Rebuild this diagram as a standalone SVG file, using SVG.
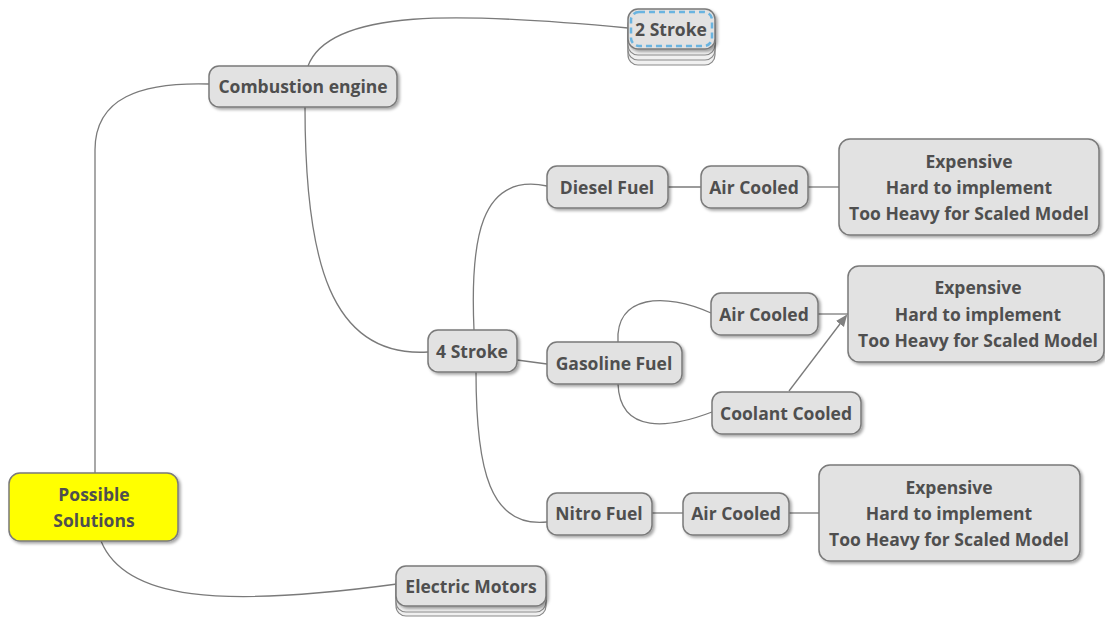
<svg xmlns="http://www.w3.org/2000/svg" width="1105" height="620" viewBox="0 0 1105 620">
<defs>
<filter id="sh" x="-10%" y="-20%" width="130%" height="150%">
<feDropShadow dx="2" dy="2" stdDeviation="1.5" flood-color="#000" flood-opacity="0.35"/>
</filter>
<marker id="arr" markerWidth="12" markerHeight="12" refX="10" refY="5" orient="auto" markerUnits="userSpaceOnUse" viewBox="0 0 12 10">
<path d="M0,0 L12,5 L0,10 z" fill="#808080"/>
</marker>
<style>
.n{fill:#e2e2e2;stroke:#7a7a7a;stroke-width:1.5;filter:url(#sh)}
.y{fill:#ffff00;stroke:#7a7a7a;stroke-width:1.5;filter:url(#sh)}
.st{fill:#f0f0f0;stroke:#8a8a8a;stroke-width:1.2}
.t{font-family:"Open Sans","Noto Sans","Liberation Sans",sans-serif;font-weight:bold;font-size:17.5px;fill:#4f4f4f;text-anchor:middle}
.c{fill:none;stroke:#7a7a7a;stroke-width:1.3}
</style>
</defs>
<rect width="1105" height="620" fill="#fff"/>
<g id="connectors">
<path class="c" d="M95,473 L95,150 C95,98 140,82 209,84"/>
<path class="c" d="M101,541 C125,600 220,608 397,584"/>
<path class="c" d="M308,66 C330,8 460,12 628,28"/>
<path class="c" d="M305,107 C305,260 330,358 428,352"/>
<path class="c" d="M474,330 C470,240 480,172 547,186"/>
<path class="c" d="M517,360 L547,364"/>
<path class="c" d="M476,372 C476,470 490,528 547,522"/>
<path class="c" d="M668,187 L701,187"/>
<path class="c" d="M808,187 L839,187"/>
<path class="c" d="M618,342 C615,295 665,292 711,313"/>
<path class="c" d="M618,384 C620,435 670,428 712,412"/>
<path class="c" d="M818,314 L848,314"/>
<path class="c" d="M789,391 L846,316" marker-end="url(#arr)"/>
<path class="c" d="M652,513 L683,513"/>
<path class="c" d="M789,513 L819,513"/>
</g>
<g id="n-possible"><rect class="y" x="9" y="473" width="169" height="68" rx="11"/><text class="t" x="94" y="501">Possible</text><text class="t" x="94" y="527">Solutions</text></g>
<g id="n-combustion"><rect class="n" x="209" y="66" width="188" height="41" rx="10"/><text class="t" x="303" y="93">Combustion engine</text></g>
<g id="n-2stroke"><rect class="st" x="628" y="25" width="87" height="40" rx="10"/><rect class="st" x="628" y="20" width="87" height="40" rx="10"/><rect class="st" x="628" y="15" width="87" height="40" rx="10"/><rect class="n" x="628" y="9" width="87" height="40" rx="10"/><rect x="631" y="12" width="81" height="34" rx="8" fill="none" stroke="#6ab4e0" stroke-width="2.5" stroke-dasharray="6,4"/><text class="t" x="671" y="36">2 Stroke</text></g>
<g id="n-electric"><rect class="st" x="396" y="576" width="150" height="40" rx="10"/><rect class="st" x="396" y="572" width="150" height="40" rx="10"/><rect class="n" x="396" y="566" width="150" height="40" rx="10"/><text class="t" x="471" y="593">Electric Motors</text></g>
<g id="n-4stroke"><rect class="n" x="428" y="330" width="89" height="42" rx="10"/><text class="t" x="472" y="358">4 Stroke</text></g>
<g id="n-diesel"><rect class="n" x="547" y="166" width="121" height="42" rx="10"/><text class="t" x="607" y="194">Diesel Fuel</text></g>
<g id="n-air1"><rect class="n" x="701" y="166" width="107" height="42" rx="10"/><text class="t" x="754" y="194">Air Cooled</text></g>
<g id="n-box1"><rect class="n" x="839" y="139" width="260" height="96" rx="11"/><text class="t" x="969" y="168">Expensive</text><text class="t" x="969" y="194">Hard to implement</text><text class="t" x="969" y="220">Too Heavy for Scaled Model</text></g>
<g id="n-gasoline"><rect class="n" x="547" y="342" width="135" height="42" rx="10"/><text class="t" x="614" y="370">Gasoline Fuel</text></g>
<g id="n-air2"><rect class="n" x="711" y="293" width="107" height="42" rx="10"/><text class="t" x="764" y="321">Air Cooled</text></g>
<g id="n-coolant"><rect class="n" x="712" y="392" width="149" height="42" rx="10"/><text class="t" x="786" y="420">Coolant Cooled</text></g>
<g id="n-box2"><rect class="n" x="848" y="266" width="256" height="96" rx="11"/><text class="t" x="978" y="294">Expensive</text><text class="t" x="978" y="321">Hard to implement</text><text class="t" x="978" y="347">Too Heavy for Scaled Model</text></g>
<g id="n-nitro"><rect class="n" x="547" y="493" width="105" height="42" rx="10"/><text class="t" x="599" y="520">Nitro Fuel</text></g>
<g id="n-air3"><rect class="n" x="683" y="493" width="106" height="42" rx="10"/><text class="t" x="736" y="520">Air Cooled</text></g>
<g id="n-box3"><rect class="n" x="819" y="465" width="261" height="96" rx="11"/><text class="t" x="949" y="494">Expensive</text><text class="t" x="949" y="520">Hard to implement</text><text class="t" x="949" y="546">Too Heavy for Scaled Model</text></g>
</svg>
